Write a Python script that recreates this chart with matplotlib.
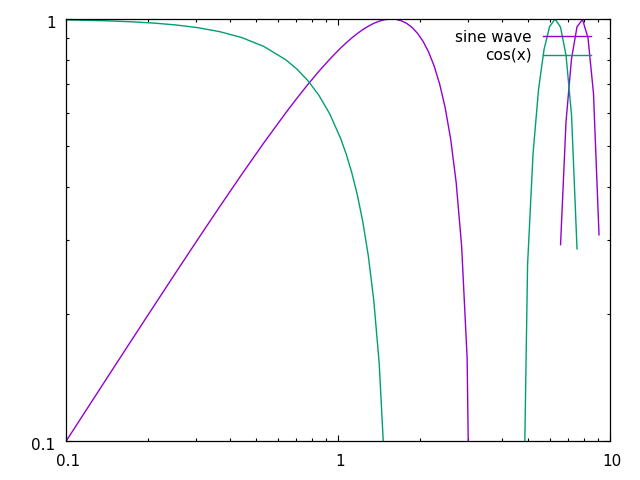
import numpy as np
import matplotlib
matplotlib.use("Agg")
import matplotlib.pyplot as plt
import matplotlib.transforms as mtransforms
from matplotlib.ticker import LogLocator, FixedLocator, NullFormatter

# Sampled points (first hump region)
x1 = [0.100000, 0.120450, 0.145083, 0.174754, 0.210490, 0.253536, 0.305385,
      0.367838, 0.443062, 0.533670, 0.642807, 0.705472, 0.774264, 0.849744,
      0.932593, 1.023532, 1.072267, 1.123325, 1.176816, 1.232847, 1.291550,
      1.353048, 1.417474, 1.484968, 1.555676, 1.629754, 1.707361, 1.788650,
      1.873816, 1.963030, 2.056499, 2.154435, 2.257012, 2.364480, 2.477069,
      2.595014, 2.718578, 2.848023, 2.983634, 3.125701]
sin1 = [0.099833, 0.120159, 0.144574, 0.173866, 0.208939, 0.250829, 0.300660,
        0.359599, 0.428708, 0.508697, 0.599445, 0.648393, 0.699190, 0.751111,
        0.803168, 0.853951, 0.878287, 0.901544, 0.923389, 0.943436, 0.961264,
        0.976387, 0.988269, 0.996319, 0.999886, 0.998262, 0.990690, 0.976364,
        0.954440, 0.924057, 0.884347, 0.834463, 0.773649, 0.701224, 0.616684,
        0.519768, 0.410511, 0.289371, 0.157303, 0.015891]
cos1 = [0.995004, 0.992755, 0.989494, 0.984769, 0.977929, 0.968032, 0.953733,
        0.933107, 0.903443, 0.860946, 0.800416, 0.761305, 0.714936, 0.660176,
        0.595753, 0.520353, 0.478134, 0.432687, 0.383869, 0.331553, 0.275631,
        0.216031, 0.152722, 0.085723, 0.015119]

# Sampled points (second hump region)
x2 = [4.750815, 4.977024, 5.214009, 5.462279, 5.722371, 5.994843, 6.280298,
      6.579338, 6.892610, 7.220807, 7.564634, 7.924831, 8.302178, 8.697497,
      9.111627]
cos2 = [0.038417, 0.261557, 0.480846, 0.681558, 0.846822, 0.958717, 0.999996,
        0.956467, 0.819977, 0.591707, 0.285326]
sin2 = [0.291843, 0.572395, 0.806153, 0.958430, 0.997491, 0.901230, 0.664842,
        0.308058]

labels = ["sine wave", "cos(x)"]
colors = ["#9400d3", "#009e73"]

fig = plt.figure(figsize=(6.4, 4.8), dpi=100)
ax = fig.add_axes([66/640, 1-441/480, (610-66)/640, (441-19)/480])
ax.set_xscale("log")
ax.set_yscale("log")

ax.plot(x1, sin1, color=colors[0], lw=1.0)
ax.plot(x2[7:], sin2, color=colors[0], lw=1.0)
ax.plot(x1[:len(cos1)], cos1, color=colors[1], lw=1.0)
ax.plot(x2[:len(cos2)], cos2, color=colors[1], lw=1.0)

ax.set_xlim(0.1, 10)
ax.set_ylim(0.1, 1)

ax.xaxis.set_major_locator(FixedLocator([0.1, 1, 10]))
ax.yaxis.set_major_locator(FixedLocator([0.1, 1]))
ax.set_xticklabels(["0.1", "1", "10"])
ax.set_yticklabels(["0.1", "1"])
ax.xaxis.set_minor_locator(LogLocator(base=10, subs=np.arange(2, 10)))
ax.yaxis.set_minor_locator(LogLocator(base=10, subs=np.arange(2, 10)))
ax.xaxis.set_minor_formatter(NullFormatter())
ax.yaxis.set_minor_formatter(NullFormatter())

ax.tick_params(which="both", direction="in", top=True, right=True,
               labelsize=11, width=0.8, colors="black")
ax.tick_params(which="major", length=4.5)
ax.tick_params(which="minor", length=2.5)
ax.tick_params(axis="x", which="major", pad=9.5)
ax.tick_params(axis="y", which="major", pad=7.5)
for s in ax.spines.values():
    s.set_linewidth(0.9)
    s.set_color("black")

dx = mtransforms.ScaledTranslation(2/100, 0, fig.dpi_scale_trans)
for lbl in ax.get_xticklabels():
    lbl.set_transform(lbl.get_transform() + dx)
dy = mtransforms.ScaledTranslation(0, -2.5/100, fig.dpi_scale_trans)
for lbl in ax.get_yticklabels():
    lbl.set_transform(lbl.get_transform() + dy)

# key (gnuplot style: right-justified text, sample line after)
ky = [37, 55.5]
ly = [36, 55]
for lab, col, yy, yl in zip(labels, colors, ky, ly):
    fig.text(532/640, 1 - yy/480, lab, ha="right", va="center", fontsize=11)
    fig.add_artist(plt.Line2D([543/640, 591/640], [1 - yl/480, 1 - yl/480],
                              color=col, lw=1.0))

fig.savefig("out.png", dpi=100)
